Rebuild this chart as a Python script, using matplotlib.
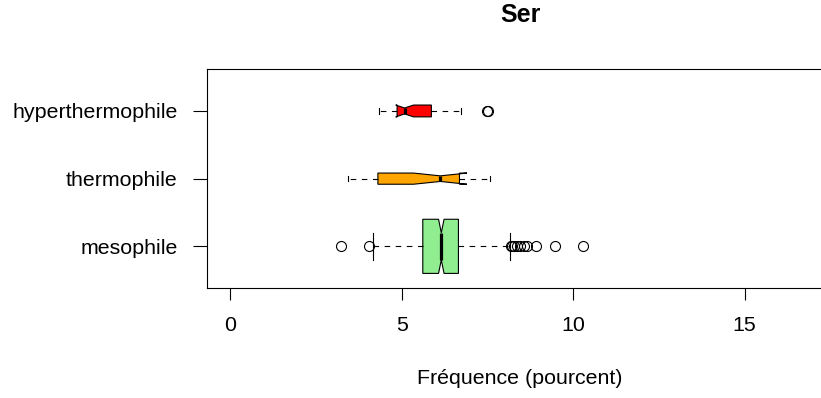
import matplotlib
matplotlib.use("Agg")
import matplotlib.pyplot as plt

plt.rcParams['font.family'] = ['Liberation Sans', 'DejaVu Sans']

# Data
categories = ["mesophile", "thermophile", "hyperthermophile"]
whislo = [4.15, 3.42, 4.32]
q1 = [5.61, 4.30, 4.86]
cilo = [6.07, 5.34, 4.82]
med = [6.15, 6.12, 5.08]
cihi = [6.23, 6.90, 5.34]
q3 = [6.65, 6.68, 5.86]
whishi = [8.16, 7.56, 6.73]
fliers = [
    [3.23, 4.04, 8.18, 8.22, 8.28, 8.36, 8.45, 8.55, 8.65, 8.90, 9.48, 10.28],
    [],
    [7.49, 7.52],
]
box_widths = [0.80, 0.165, 0.175]
colors = ["#90EE90", "#FFA500", "#FF0000"]
xticks = [0, 5, 10, 15]
title = "Ser"
xlabel = "Fréquence (pourcent)"

W, H = 821, 398
fig = plt.figure(figsize=(W / 100, H / 100), dpi=100)
left, right, top, bottom = 207.3, 833.0, 69.0, 288.3
ax = fig.add_axes([left / W, (H - bottom) / H, (right - left) / W, (bottom - top) / H])

stats = []
for i, name in enumerate(categories):
    stats.append(dict(label=name, whislo=whislo[i], q1=q1[i], cilo=cilo[i], med=med[i],
                      cihi=cihi[i], q3=q3[i], whishi=whishi[i], fliers=fliers[i]))

lw = 0.8
res = ax.bxp(stats, positions=[1, 2, 3], widths=box_widths,
             capwidths=[w * 0.5 for w in box_widths],
             orientation='horizontal', shownotches=True, patch_artist=True,
             boxprops=dict(edgecolor='black', linewidth=lw),
             whiskerprops=dict(color='black', linewidth=lw, linestyle=(0, (5, 5))),
             capprops=dict(color='black', linewidth=lw),
             medianprops=dict(color='black', linewidth=2.3, solid_capstyle='butt'),
             flierprops=dict(marker='o', markerfacecolor='none', markeredgecolor='black',
                             markersize=7.2, markeredgewidth=lw, linestyle='none'))
for patch, c in zip(res['boxes'], colors):
    patch.set_facecolor(c)

ax.set_xlim(-0.676, 17.576)
ax.set_ylim(0.38, 3.62)
ax.set_xticks(xticks)
ax.set_xticklabels([str(t) for t in xticks])
ax.set_yticks([1, 2, 3])
ax.set_yticklabels(categories)

for s in ax.spines.values():
    s.set_linewidth(lw)
    s.set_color('black')

ax.tick_params(axis='x', length=8.9, width=lw, pad=11, labelsize=15.4, color='black')
ax.tick_params(axis='y', length=10.0, width=lw, pad=11.5, labelsize=15.4, color='black')

ax.set_xlabel(xlabel, fontsize=15.4)
ax.xaxis.set_label_coords(0.5, -(378 - bottom) / (bottom - top))
ax.xaxis.label.set_va('center')

ax.text(0.5, (bottom - 15) / (bottom - top), title, transform=ax.transAxes,
        ha='center', va='center', fontsize=18, fontweight='bold')

fig.savefig("out.png", dpi=100)
